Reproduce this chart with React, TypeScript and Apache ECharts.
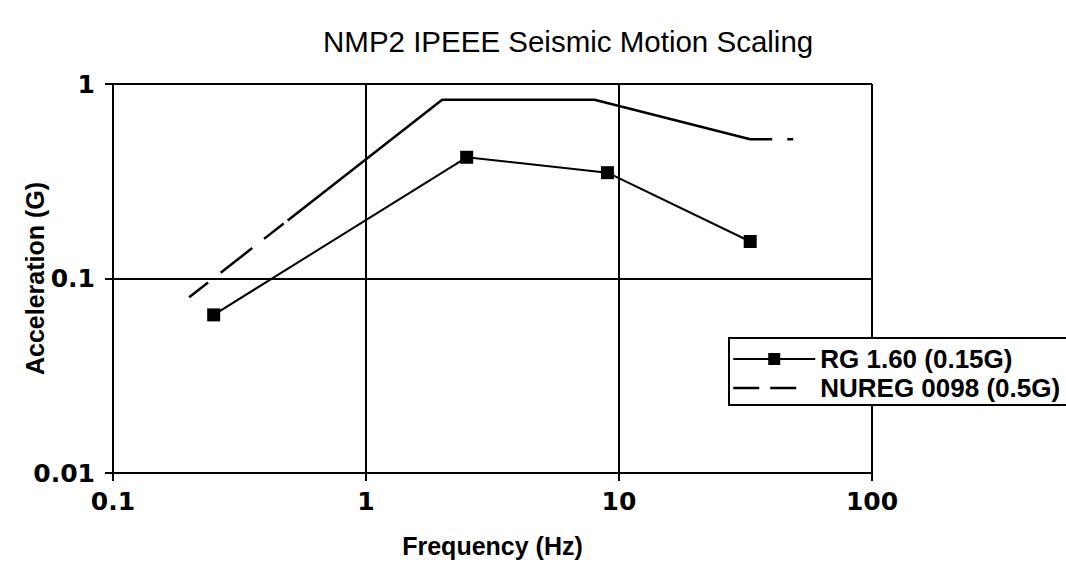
import React, { useEffect, useRef } from "react";
import * as echarts from "echarts";

const titleText = "NMP2 IPEEE Seismic Motion Scaling";
const xAxisName = "Frequency (Hz)";
const yAxisName = "Acceleration (G)";
const rgName = "RG 1.60 (0.15G)";
const nuregName = "NUREG 0098 (0.5G)";

// frequency (Hz), acceleration (G)
const rgFreq = [0.25, 2.5, 9, 33];
const rgAccel = [0.065, 0.42, 0.35, 0.155];
const nuregFreq = [0.2, 2, 8, 33, 50];
const nuregAccel = [0.08, 0.83, 0.83, 0.52, 0.52];

const xMin = 0.1;
const xMax = 100;
const yMin = 0.01;
const yMax = 1;

const FONT = "'Liberation Sans', Arial, Helvetica, sans-serif";
const TICK_FONT = "'DejaVu Sans', 'Liberation Sans', Arial, sans-serif";

export default function App() {
  const ref = useRef<HTMLDivElement>(null);

  useEffect(() => {
    document.body.style.margin = "0";
    const chart = echarts.init(ref.current!, null, { renderer: "svg" });
    const fmt = (v: number) => String(+Number(v).toPrecision(3));
    chart.setOption({
      animation: false,
      backgroundColor: "#fff",
      textStyle: { fontFamily: FONT, color: "#000" },
      title: {
        text: titleText,
        left: 318,
        top: 21,
        textStyle: { fontFamily: FONT, fontSize: 29.5, fontWeight: "normal", color: "#000" },
      },
      grid: { left: 113, top: 84, width: 759, height: 389, containLabel: false, outerBoundsMode: "none" },
      xAxis: {
        type: "log",
        logBase: 10,
        min: xMin,
        max: xMax,
        name: xAxisName,
        nameLocation: "middle",
        nameGap: 60,
        nameMoveOverlap: false,
        nameTextStyle: { fontFamily: FONT, fontSize: 25, fontWeight: "bold", color: "#000" },
        axisLine: { show: true, lineStyle: { color: "#000", width: 2 } },
        axisTick: { show: true, length: 8, lineStyle: { color: "#000", width: 2 } },
        axisLabel: { formatter: fmt, fontFamily: TICK_FONT, fontSize: 25, fontWeight: "bold", color: "#000", margin: 16 },
        splitLine: { show: true, lineStyle: { color: "#000", width: 2 } },
        minorTick: { show: false },
      },
      yAxis: {
        type: "log",
        logBase: 10,
        min: yMin,
        max: yMax,
        name: yAxisName,
        nameLocation: "middle",
        nameGap: 66,
        nameMoveOverlap: false,
        nameTextStyle: { fontFamily: FONT, fontSize: 25, fontWeight: "bold", color: "#000" },
        axisLine: { show: true, lineStyle: { color: "#000", width: 2 } },
        axisTick: { show: true, length: 8, lineStyle: { color: "#000", width: 2 } },
        axisLabel: { formatter: fmt, fontFamily: TICK_FONT, fontSize: 25, fontWeight: "bold", color: "#000", margin: 18 },
        splitLine: { show: true, lineStyle: { color: "#000", width: 2 } },
        minorTick: { show: false },
      },
      legend: {
        orient: "vertical",
        left: 729,
        top: 338,
        itemWidth: 82,
        itemHeight: 15,
        itemGap: 3,
        padding: [8, 12, 4, 3],
        borderColor: "#000",
        borderWidth: 2,
        backgroundColor: "#fff",
        textStyle: { fontFamily: FONT, fontSize: 26, fontWeight: "bold", color: "#000" },
        data: [
          { name: rgName },
          {
            name: nuregName,
            itemStyle: { color: "rgba(0,0,0,0)", borderWidth: 0, opacity: 0 },
            lineStyle: { type: [26, 11, 26, 30], width: 2.5, color: "#000" },
          },
        ],
      },
      series: [
        {
          name: rgName,
          type: "line",
          data: rgFreq.map((f, i) => [f, rgAccel[i]]),
          symbol: "rect",
          symbolSize: 13,
          itemStyle: { color: "#000" },
          lineStyle: { color: "#000", width: 2 },
        },
        {
          name: nuregName,
          type: "line",
          data: nuregFreq.map((f, i) => [f, nuregAccel[i]]),
          symbol: "none",
          itemStyle: { color: "#000" },
          lineStyle: { color: "#000", width: 2.5, type: [24, 16, 40, 15, 25, 5, 531, 15, 6, 300] },
        },
      ],
    });
    return () => chart.dispose();
  }, []);

  return <div ref={ref} style={{ position: "absolute", left: 0, top: 0, width: 1066, height: 571 }} />;
}
